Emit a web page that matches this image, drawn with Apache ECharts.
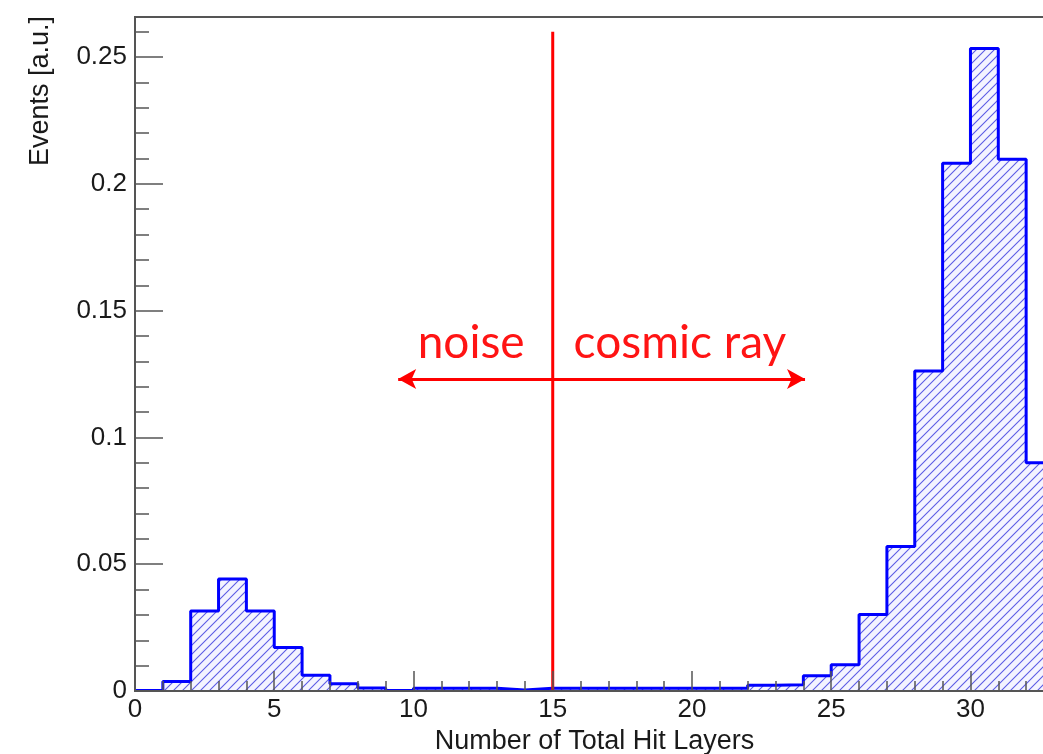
<!DOCTYPE html>
<html>
<head>
<meta charset="utf-8">
<script src="https://cdn.jsdelivr.net/npm/echarts@6/dist/echarts.min.js"></script>
<style>html,body{margin:0;background:#fff}#main{width:1043px;height:754px}</style>
</head>
<body>
<div id="main"></div>
<script>
// lower edge of each 1-layer bin and its content
var binLow = [0,1,2,3,4,5,6,7,8,9,10,11,12,13,14,15,16,17,18,19,20,21,22,23,24,25,26,27,28,29,30,31,32];
var events = [0.0002,0.0037,0.0315,0.0442,0.0315,0.0172,0.0062,0.0029,0.0012,0.0002,0.0011,0.0011,0.0011,0.0004,0.0011,0.0011,0.0011,0.0011,0.0011,0.0011,0.0011,0.0011,0.0023,0.0025,0.0060,0.0104,0.0302,0.0570,0.1262,0.2081,0.2534,0.2097,0.0900];
var xMax = 33, yMax = 0.2658;
// cut line and the noise / cosmic ray arrow
var cutX = 15, cutTop = 0.26;
var arrowY = 0.123, arrowFrom = 9.45, arrowTo = 24.06;

var chart = echarts.init(document.getElementById('main'));

function hatch() {
    var s = 9;
    var c = document.createElement('canvas');
    c.width = s; c.height = s;
    var g = c.getContext('2d');
    g.fillStyle = '#f4f4ff';
    g.fillRect(0, 0, s, s);
    g.strokeStyle = '#5c5ce4';
    g.lineWidth = 1.1;
    g.beginPath();
    g.moveTo(-1, s + 1); g.lineTo(s + 1, -1);
    g.moveTo(-1, 1); g.lineTo(1, -1);
    g.moveTo(s - 1, s + 1); g.lineTo(s + 1, s - 1);
    g.stroke();
    return c;
}

// step outline: one point per bin lower edge plus the last upper edge
var steps = [];
for (var i = 0; i < binLow.length; i++) steps.push([binLow[i], events[i]]);
steps.push([xMax, events[events.length - 1]]);

var axisCol = '#555';
var txt = '#1a1a1a';
var font = 'Liberation Sans';

option = {
    animation: false,
    grid: { left: 135, top: 17, right: -11, bottom: 63, show: true, borderColor: axisCol, borderWidth: 2, outerBoundsMode: 'none', containLabel: false },
    xAxis: [
        {
            type: 'value', min: 0, max: xMax, interval: 5, z: 5,
            axisLine: { onZero: false, lineStyle: { color: axisCol, width: 2 } },
            axisTick: { inside: true, length: 20, lineStyle: { color: axisCol, width: 1.5 } },
            axisLabel: { margin: 6, color: txt, fontSize: 26, fontFamily: font, showMaxLabel: false },
            splitLine: { show: false },
            name: 'Number of Total Hit Layers', nameLocation: 'middle', nameGap: 35,
            nameTextStyle: { color: txt, fontSize: 27, fontFamily: font }
        },
        {
            type: 'value', min: 0, max: xMax, interval: 1, z: 5, position: 'bottom',
            axisLine: { show: false },
            axisTick: { inside: true, length: 10, lineStyle: { color: axisCol, width: 1.5 } },
            axisLabel: { show: false },
            splitLine: { show: false }
        }
    ],
    yAxis: [
        {
            type: 'value', min: 0, max: yMax, interval: 0.05, z: 5,
            axisLine: { show: true, onZero: false, lineStyle: { color: axisCol, width: 2 } },
            axisTick: { show: true, inside: true, length: 28, lineStyle: { color: axisCol, width: 1.5 } },
            axisLabel: { margin: 8, color: txt, fontSize: 26, fontFamily: font, showMaxLabel: false },
            splitLine: { show: false }
        },
        {
            type: 'value', min: 0, max: yMax, interval: 0.01, z: 5, position: 'left',
            axisLine: { show: false },
            axisTick: { show: true, inside: true, length: 14, lineStyle: { color: axisCol, width: 1.5 } },
            axisLabel: { show: false },
            splitLine: { show: false }
        }
    ],
    series: [
        {
            type: 'line', step: 'end', data: steps, symbol: 'none', silent: true, z: 2,
            lineStyle: { color: '#0000ff', width: 3 },
            areaStyle: { color: { image: hatch(), repeat: 'repeat' }, opacity: 1 }
        },
        {
            type: 'line', data: [[cutX, 0], [cutX, cutTop]], symbol: 'none', silent: true, z: 4,
            lineStyle: { color: '#ff0000', width: 3 },
            markLine: {
                silent: true, symbol: ['arrow', 'arrow'], symbolSize: [15, 18],
                lineStyle: { color: '#ff0000', width: 3, type: 'solid' },
                label: { show: false },
                data: [[{ coord: [arrowFrom, arrowY] }, { coord: [arrowTo, arrowY] }]]
            }
        }
    ]
};
chart.setOption(option);

var pNoise = chart.convertToPixel({ xAxisIndex: 0, yAxisIndex: 0 }, [10.15, 0.128]);
var pCosmic = chart.convertToPixel({ xAxisIndex: 0, yAxisIndex: 0 }, [15.75, 0.128]);
var redFont = '46px Lato';
chart.setOption({
    graphic: [
        { type: 'text', x: pNoise[0], y: pNoise[1], style: { text: 'noise', font: redFont, fill: '#ff1414', align: 'left', verticalAlign: 'bottom' } },
        { type: 'text', x: pCosmic[0], y: pCosmic[1], style: { text: 'cosmic ray', font: redFont, fill: '#ff1414', align: 'left', verticalAlign: 'bottom' } },
        { type: 'text', x: 41, y: 16, rotation: Math.PI / 2, style: { text: 'Events [a.u.]', font: '27px "Liberation Sans"', fill: txt, align: 'right', verticalAlign: 'middle' } }
    ]
});
</script>
</body>
</html>
